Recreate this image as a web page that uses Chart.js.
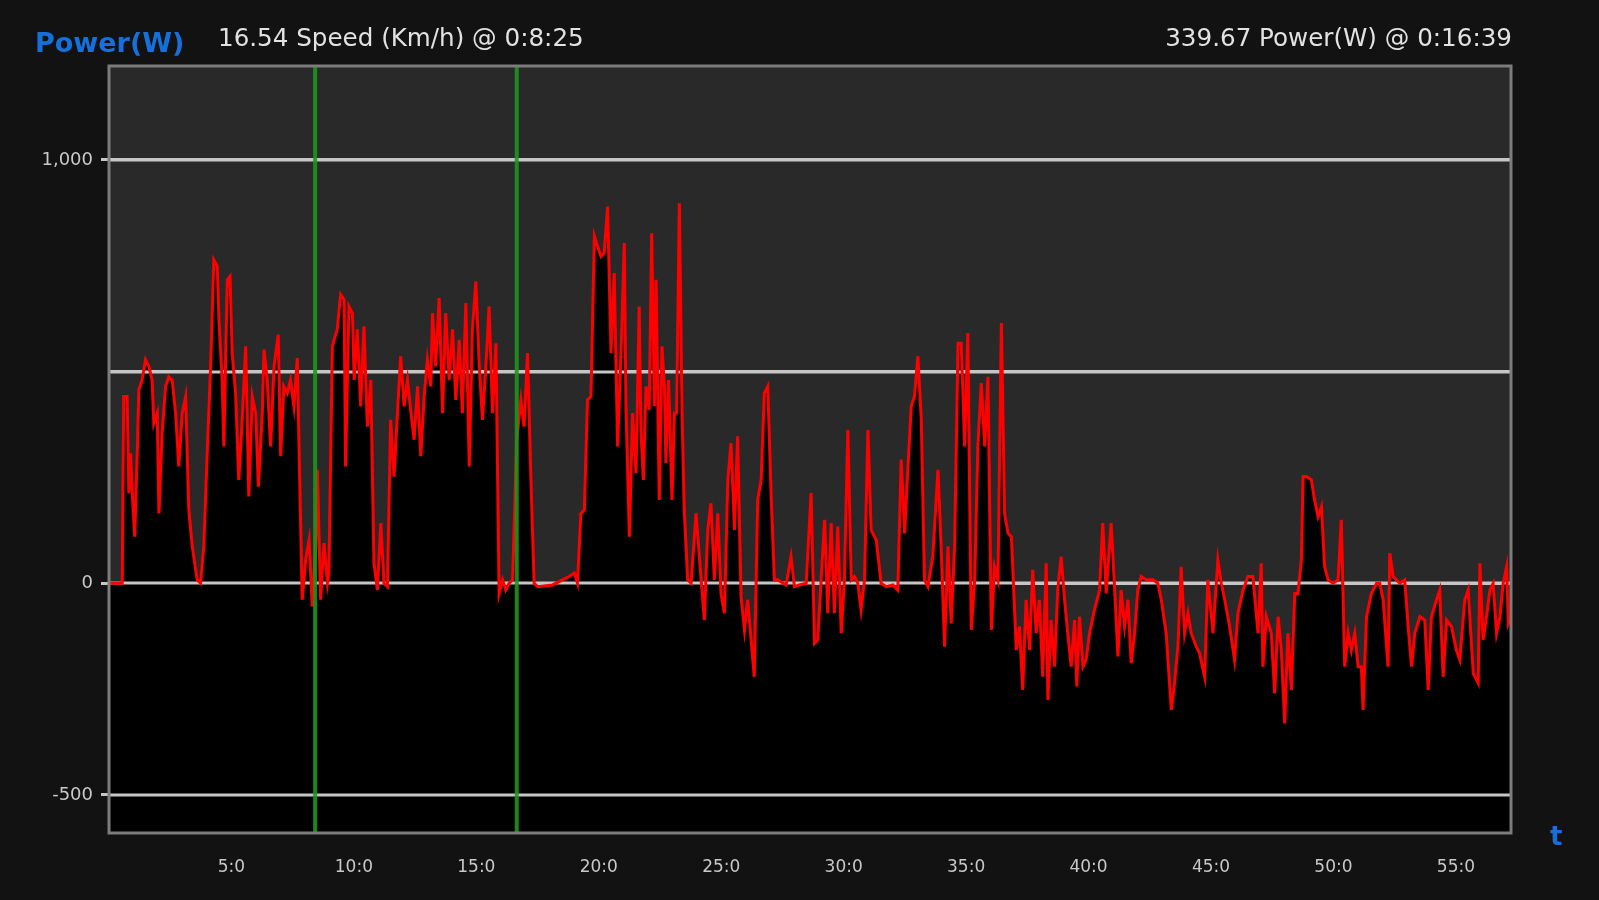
<!DOCTYPE html>
<html>
<head>
<meta charset="utf-8">
<script src="https://cdn.jsdelivr.net/npm/chart.js@4.4.1/dist/chart.umd.min.js"></script>
<style>
html,body{margin:0;padding:0;background:#121212;width:1599px;height:900px;overflow:hidden;}
#wrap{position:relative;width:1599px;height:900px;}
#c{position:absolute;left:0;top:0;}
.lbl{position:absolute;white-space:nowrap;font-family:"DejaVu Sans",sans-serif;line-height:1;}
</style>
</head>
<body>
<div id="wrap">
<canvas id="c" width="1599" height="900"></canvas>
<div class="lbl" style="left:35px;top:29px;font-size:27px;font-weight:bold;color:#1670dc;">Power(W)</div>
<div class="lbl" style="left:218px;top:26px;font-size:24.6px;color:#e2e2e2;">16.54 Speed (Km/h) @ 0:8:25</div>
<div class="lbl" style="right:87px;top:26px;font-size:24.6px;color:#e2e2e2;">339.67 Power(W) @ 0:16:39</div>
<div class="lbl" style="left:1550px;top:823px;font-size:26px;font-weight:bold;color:#1670dc;">t</div>
</div>
<script>
// ---- data (time in minutes, power in watts) ----
const timeMin = [
0,0.54,0.60,0.74,0.81,0.88,0.95,1.05,1.15,1.22,1.35,1.49,1.63,1.76,1.83,1.97,2.04,2.17,2.31,2.44,
2.58,2.72,2.85,2.99,3.13,3.26,3.40,3.60,3.74,3.87,4.01,4.15,4.28,4.42,4.49,4.62,4.69,4.83,4.94,5.03,
5.17,5.30,5.44,5.58,5.71,5.85,5.99,6.10,6.26,6.33,6.46,6.60,6.74,6.91,7.01,7.14,7.28,7.41,7.55,7.69,
7.76,7.89,8.03,8.17,8.30,8.44,8.51,8.64,8.78,8.92,8.98,9.12,9.32,9.46,9.60,9.66,9.80,9.94,10.01,10.14,
10.28,10.41,10.55,10.69,10.82,10.96,11.10,11.23,11.37,11.50,11.64,11.78,11.91,12.05,12.19,12.33,12.46,12.60,12.73,12.87,
13.00,13.14,13.21,13.34,13.48,13.62,13.75,13.89,14.03,14.16,14.30,14.43,14.57,14.71,14.84,14.98,15.12,15.25,15.39,15.52,
15.66,15.80,15.93,16.07,16.20,16.34,16.48,16.65,16.82,16.95,17.09,17.23,17.36,17.50,
18.11,18.52,18.79,19.00,19.13,19.27,19.41,19.54,19.68,19.82,19.95,20.09,20.22,20.36,20.50,20.63,20.77,20.91,21.04,21.11,
21.25,21.38,21.52,21.65,21.72,21.82,21.93,22.06,22.16,22.27,22.34,22.47,22.58,22.68,22.74,22.85,22.99,23.09,23.18,23.29,
23.40,23.49,23.63,23.77,23.97,24.18,24.31,24.45,24.58,24.72,24.86,24.99,25.13,25.27,25.40,25.54,25.67,25.81,25.95,26.08,
26.22,26.35,26.49,26.63,26.76,26.90,27.04,27.17,27.31,27.65,27.85,27.99,28.19,28.47,28.67,28.81,28.94,29.08,29.22,29.35,
29.49,29.62,29.76,29.90,30.03,30.17,30.31,30.44,30.58,30.71,30.85,30.99,31.12,31.33,31.53,31.74,32.01,32.21,32.35,32.49,
32.62,32.76,32.89,33.03,33.17,33.30,33.44,33.64,33.85,33.98,34.12,34.26,34.39,34.53,34.67,34.80,34.94,35.07,35.21,35.35,
35.48,35.62,35.76,35.89,36.03,36.16,36.30,36.44,36.57,36.71,36.85,37.05,37.18,37.31,37.45,37.59,37.72,37.86,37.99,38.13,
38.27,38.34,38.47,38.61,38.74,38.88,39.02,39.15,39.29,39.43,39.52,39.63,39.77,39.90,40.04,40.24,40.45,40.58,40.72,40.92,
41.06,41.20,41.33,41.47,41.61,41.74,41.88,42.01,42.15,42.35,42.63,42.83,42.97,43.17,43.38,43.51,43.65,43.78,43.92,44.06,
44.19,44.40,44.53,44.74,44.87,45.08,45.28,45.42,45.56,45.76,45.96,46.10,46.31,46.51,46.71,46.92,47.05,47.12,47.26,47.46,
47.60,47.74,47.87,48.01,48.14,48.28,48.42,48.55,48.69,48.76,48.89,49.10,49.23,49.37,49.51,49.64,49.78,49.98,50.19,50.32,
50.46,50.60,50.73,50.87,51.01,51.14,51.21,51.35,51.55,51.76,51.89,52.03,52.23,52.30,52.44,52.71,52.91,53.05,53.19,53.32,
53.53,53.73,53.87,54.00,54.21,54.34,54.48,54.62,54.82,55.02,55.16,55.36,55.50,55.71,55.91,55.98,56.11,56.25,56.39,56.52,
56.66,56.80,56.93,57.07,57.14,57.24
];
const powerW = [
0,0,441,441,213,307,213,110,300,457,480,528,512,480,378,402,165,355,465,488,
480,402,276,402,441,173,87,8,0,87,307,512,764,749,622,480,323,717,725,544,
449,244,386,560,205,441,402,228,402,552,480,323,512,587,300,465,449,480,418,532,
323,-39,55,102,-55,87,268,-39,95,0,24,560,600,682,670,276,654,638,480,600,
418,607,370,480,47,-16,142,0,-8,386,252,402,536,418,480,402,339,465,300,441,
528,465,638,512,674,402,638,480,600,433,575,402,662,276,599,713,512,386,512,654,
402,567,-24,8,-16,0,8,340,433,370,544,244,0,-8,
-4,8,16,24,0,165,173,433,441,820,796,772,780,890,544,733,323,544,804,418,
110,402,260,654,362,244,465,410,827,418,717,197,560,465,284,480,197,402,402,898,
402,173,8,0,165,8,-87,126,189,8,165,-24,-71,244,331,126,347,-32,-110,-39,
-134,-221,197,244,449,465,205,8,8,-4,63,-8,-4,0,213,-142,-134,8,150,-71,
142,-71,134,-118,8,362,8,16,0,-63,8,362,126,102,0,-8,-4,-16,292,118,
268,418,441,536,386,8,-8,63,268,87,-150,87,-95,87,567,567,323,591,-110,8,
323,473,323,488,-110,39,8,615,165,118,110,-158,-102,-252,-39,-158,32,-118,-39,-221,
47,-276,-87,-197,-16,63,-39,-118,-197,-87,-244,-79,-197,-181,-118,-63,-16,142,-24,142,
-8,-173,-16,-102,-39,-189,-118,-16,16,8,8,0,-39,-118,-299,-236,-150,39,-118,-71,
-118,-150,-165,-221,8,-118,55,0,-39,-102,-181,-71,-16,16,16,-118,47,-197,-79,-118,
-260,-79,-158,-331,-118,-252,-24,-24,55,252,252,244,197,158,181,39,8,0,8,150,
-197,-118,-158,-118,-197,-197,-299,-79,-24,0,0,-39,-197,71,16,0,8,-102,-197,-118,
-79,-87,-252,-79,-39,-16,-221,-87,-102,-158,-181,-39,-16,-213,-236,47,-134,-79,-16,0,
-118,-79,0,39,-95,-80
];
const markerTimes = [8.4167, 16.65];           // cursor lines (0:8:25, 0:16:39)
const xTickValues = [5,10,15,20,25,30,35,40,45,50,55];
const xTickLabels = ['5:0','10:0','15:0','20:0','25:0','30:0','35:0','40:0','45:0','50:0','55:0'];
const yTickValues = [-500,0,500,1000];
const yTickLabels = ['-500','0','','1,000'];

const points = timeMin.map((t,i)=>({x:t, y:powerW[i]}));

const GRID = '#c6c6c6';

const plotBg = {
  id:'plotBg',
  beforeDraw(chart){
    const {ctx, chartArea:a} = chart;
    ctx.save();
    ctx.fillStyle = '#292929';
    ctx.fillRect(a.left, a.top, a.right-a.left, a.bottom-a.top);
    ctx.restore();
  }
};
const gridOver = {
  id:'gridOver',
  beforeDatasetDraw(chart, args){
    if (args.index !== 0) return;
    const {ctx, chartArea:a, scales} = chart;
    ctx.save();
    ctx.strokeStyle = GRID;
    ctx.lineWidth = 3;
    yTickValues.forEach(v=>{
      const y = Math.round(scales.y.getPixelForValue(v));
      ctx.beginPath(); ctx.moveTo(a.left, y); ctx.lineTo(a.right, y); ctx.stroke();
    });
    ctx.restore();
  }
};
const overlay = {
  id:'overlay',
  afterDatasetsDraw(chart){
    const {ctx, chartArea:a, scales} = chart;
    ctx.save();
    ctx.strokeStyle = 'rgba(28,150,28,0.9)';
    ctx.lineWidth = 4;
    markerTimes.forEach(t=>{
      const x = scales.x.getPixelForValue(t);
      ctx.beginPath(); ctx.moveTo(x, a.top); ctx.lineTo(x, a.bottom); ctx.stroke();
    });
    ctx.strokeStyle = '#7c7c7c';
    ctx.lineWidth = 3;
    ctx.strokeRect(a.left, a.top, a.right-a.left, a.bottom-a.top);
    ctx.restore();
  }
};

new Chart(document.getElementById('c'), {
  type:'line',
  data:{
    datasets:[
      { data:points, borderColor:'#ff0000', borderWidth:3, pointRadius:0, tension:0, fill:false },
      { data:points, borderWidth:0, borderColor:'rgba(0,0,0,0)', backgroundColor:'#000000', pointRadius:0, tension:0, fill:'start' }
    ]
  },
  options:{
    responsive:false,
    devicePixelRatio:1,
    animation:false,
    layout:{ padding:{ left:0, top:66, right:88, bottom:0 } },
    plugins:{ legend:{display:false}, tooltip:{enabled:false}, title:{display:false} },
    scales:{
      x:{
        type:'linear', min:0, max:57.25,
        afterBuildTicks(s){ s.ticks = xTickValues.map(v=>({value:v})); },
        afterFit(s){ s.height = 67; },
        grid:{ display:false, drawTicks:false },
        border:{ display:false },
        ticks:{ color:'#c8c8c8', font:{family:'DejaVu Sans', size:17}, padding:24, maxRotation:0, autoSkip:false,
                callback:(v)=>xTickLabels[xTickValues.indexOf(v)] }
      },
      y:{
        type:'linear', min:-590, max:1222,
        afterBuildTicks(s){ s.ticks = yTickValues.map(v=>({value:v})); },
        afterFit(s){ s.width = 109; },
        grid:{ color:GRID, lineWidth:3, tickLength:8, drawTicks:true,
               tickColor:(c)=> (c.tick && yTickLabels[yTickValues.indexOf(c.tick.value)] === '') ? 'rgba(0,0,0,0)' : GRID },
        border:{ display:false },
        ticks:{ color:'#c8c8c8', font:{family:'DejaVu Sans', size:18}, padding:8, autoSkip:false,
                callback:(v)=>yTickLabels[yTickValues.indexOf(v)] }
      }
    }
  },
  plugins:[plotBg, gridOver, overlay]
});
</script>
</body>
</html>
